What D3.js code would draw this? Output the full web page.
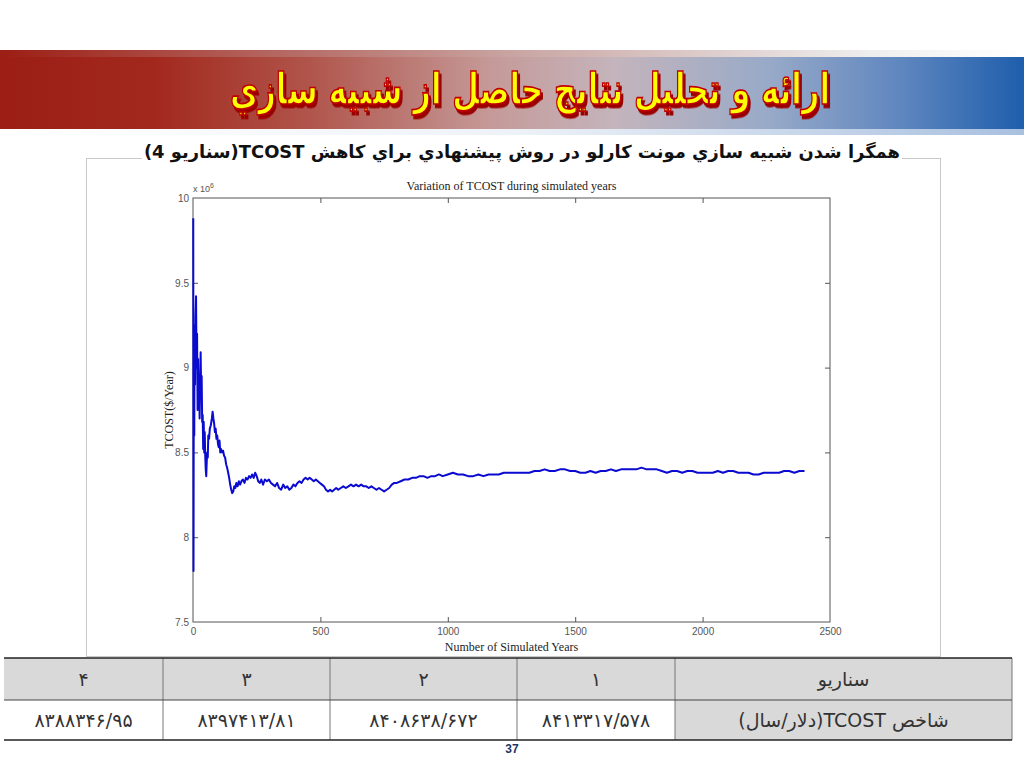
<!DOCTYPE html>
<html><head><meta charset="utf-8">
<script src="https://cdn.jsdelivr.net/npm/d3@7"></script>
<style>body{margin:0;background:#fff;} svg{display:block}</style>
</head><body><svg id="c" width="1024" height="768"></svg>
<script>
// ---- data ----
const years = [1,2,3,4,5,6,8,10,12,14,16,18,20,22,24,26,28,30,32,34,36,38,40,42,44,46,48,50,52,54,56,58,60,63,66,70,74,77,80,83,86,89,92,95,98,101,104,107,110,114,118,122,126,130,134,138,142,146,150,154,158,162,166,170,175,180,185,190,196,202,208,214,220,226,232,238,244,250,256,262,268,275,282,290,298,306,314,322,330,338,346,354,362,370,378,386,394,402,410,418,426,434,442,450,458,466,474,482,490,498,506,514,522,530,538,546,554,562,570,580,590,600,610,620,630,640,650,660,670,680,690,700,710,720,730,740,750,760,770,780,790,800,815,830,845,860,875,890,905,920,935,950,965,980,1000,1020,1040,1060,1080,1100,1120,1140,1160,1180,1200,1220,1240,1260,1280,1300,1320,1340,1360,1380,1400,1420,1440,1460,1480,1500,1520,1540,1560,1580,1600,1620,1640,1660,1680,1700,1720,1740,1760,1780,1800,1820,1840,1860,1880,1900,1920,1940,1960,1980,2000,2020,2040,2060,2080,2100,2120,2140,2160,2180,2200,2220,2240,2260,2280,2300,2320,2340,2360,2380,2400];
const tcost = [9.88,7.80,8.90,9.25,8.60,9.20,8.90,9.30,9.42,9.00,9.20,8.75,9.05,8.80,8.95,8.70,8.90,9.09,8.85,8.95,8.68,8.72,8.52,8.68,8.50,8.62,8.48,8.40,8.36,8.45,8.50,8.47,8.60,8.58,8.64,8.66,8.70,8.74,8.70,8.67,8.62,8.64,8.58,8.60,8.55,8.53,8.57,8.50,8.52,8.50,8.51,8.48,8.47,8.43,8.41,8.38,8.35,8.31,8.28,8.26,8.27,8.30,8.29,8.32,8.30,8.33,8.31,8.33,8.34,8.32,8.35,8.34,8.36,8.35,8.37,8.35,8.38,8.36,8.33,8.32,8.34,8.31,8.34,8.33,8.34,8.32,8.31,8.30,8.32,8.29,8.28,8.31,8.29,8.30,8.28,8.29,8.31,8.30,8.32,8.33,8.32,8.34,8.35,8.34,8.35,8.34,8.33,8.34,8.33,8.32,8.31,8.30,8.28,8.27,8.28,8.27,8.28,8.29,8.28,8.29,8.30,8.29,8.30,8.31,8.30,8.31,8.30,8.31,8.30,8.30,8.29,8.30,8.29,8.28,8.29,8.28,8.27,8.28,8.29,8.31,8.32,8.32,8.33,8.34,8.34,8.35,8.35,8.36,8.36,8.35,8.36,8.36,8.37,8.36,8.37,8.38,8.37,8.37,8.36,8.36,8.37,8.36,8.37,8.37,8.37,8.38,8.38,8.38,8.38,8.38,8.38,8.39,8.39,8.40,8.39,8.39,8.40,8.40,8.39,8.39,8.38,8.38,8.39,8.38,8.39,8.39,8.40,8.39,8.40,8.40,8.40,8.40,8.41,8.40,8.40,8.40,8.39,8.38,8.39,8.39,8.38,8.39,8.39,8.38,8.38,8.38,8.38,8.39,8.38,8.39,8.39,8.38,8.38,8.38,8.37,8.37,8.38,8.38,8.38,8.38,8.39,8.39,8.38,8.39,8.39];
const xTicks = [0,500,1000,1500,2000,2500];
const yTicks = [7.5,8,8.5,9,9.5,10];
const tableHeader = ["سناريو","۱","۲","۳","۴"];
const tableValues = ["شاخص TCOST(دلار/سال)","۸۴۱۳۳۱۷/۵۷۸","۸۴۰۸۶۳۸/۶۷۲","۸۳۹۷۴۱۳/۸۱","۸۳۸۸۳۴۶/۹۵"];
const slideTitle = "ارائه و تحليل نتايج حاصل از شبيه سازي";
const subTitle = "همگرا شدن شبيه سازي مونت كارلو در روش پيشنهادي براي كاهش TCOST(سناريو 4)";
const chartTitle = "Variation of TCOST during simulated years";
const xLabel = "Number of Simulated Years";
const yLabel = "TCOST($/Year)";
const pageNum = "37";

// ---- drawing ----
const svg = d3.select("#c");
const defs = svg.append("defs");
const g1 = defs.append("linearGradient").attr("id","ban").attr("x1","0").attr("x2","1").attr("y1","0").attr("y2","0");
[[0,"#9c1e14"],[0.15,"#a2281d"],[0.3,"#b0544a"],[0.48,"#c59a98"],[0.6,"#c4b4bc"],[0.75,"#98aac8"],[0.88,"#5f86bf"],[1,"#1e5eac"]]
  .forEach(s=>g1.append("stop").attr("offset",s[0]).attr("stop-color",s[1]));
const g2 = defs.append("linearGradient").attr("id","topstrip").attr("x1","0").attr("x2","1");
[[0,"#9c1e14"],[0.5,"#c9a5a2"],[0.85,"#eeeeee"],[1,"#ffffff"]].forEach(s=>g2.append("stop").attr("offset",s[0]).attr("stop-color",s[1]));
const g3 = defs.append("linearGradient").attr("id","botstrip").attr("x1","0").attr("x2","1");
[[0,"#ffffff"],[0.5,"#eef2f8"],[1,"#a9c0df"]].forEach(s=>g3.append("stop").attr("offset",s[0]).attr("stop-color",s[1]));
const flt = defs.append("filter").attr("id","shd").attr("x","-5%").attr("y","-20%").attr("width","110%").attr("height","150%");
flt.append("feDropShadow").attr("dx",2).attr("dy",2.5).attr("stdDeviation",0.3).attr("flood-color","#9a0000").attr("flood-opacity",1);

svg.append("rect").attr("x",0).attr("y",50).attr("width",1024).attr("height",8).attr("fill","url(#topstrip)");
svg.append("rect").attr("x",0).attr("y",57).attr("width",1024).attr("height",72).attr("fill","url(#ban)");
svg.append("rect").attr("x",0).attr("y",129).attr("width",1024).attr("height",6).attr("fill","url(#botstrip)");

// slide title
const tFont = "'DejaVu Sans', sans-serif";
const tMain = svg.append("text").attr("transform","translate(530,104) scale(1,1.4)").attr("text-anchor","middle")
  .attr("direction","rtl").style("font-family",tFont).style("font-weight","bold").style("font-size","34px")
  .attr("fill","#ffff00").attr("stroke","#c00000").attr("stroke-width",1.2).attr("filter","url(#shd)").text(slideTitle);
const tw = tMain.node().getComputedTextLength();
tMain.style("font-size",(34*600/tw).toFixed(1)+"px");

// figure border
svg.append("rect").attr("x",86.5).attr("y",158.5).attr("width",854).attr("height",498)
  .attr("fill","none").attr("stroke","#c8c8c8");

// subtitle
const subBack = svg.append("rect").attr("fill","#fff");
const sub = svg.append("text").attr("x",900).attr("y",158).attr("text-anchor","start").attr("direction","rtl")
  .style("font-family","'DejaVu Sans', 'Liberation Sans', sans-serif").style("font-weight","bold").style("font-size","17px")
  .attr("fill","#111").text(subTitle);
const sw = sub.node().getComputedTextLength();
sub.style("font-size",(17*756/sw).toFixed(1)+"px");
const sbb = sub.node().getBBox();
subBack.attr("x",sbb.x-2).attr("y",sbb.y+2).attr("width",sbb.width+4).attr("height",sbb.height-4);

// chart
const x = d3.scaleLinear().domain([0,2500]).range([193,830]);
const y = d3.scaleLinear().domain([7.5,10]).range([622,198]);
const axCol = "#555";
const tickFont = "'Liberation Sans Narrow','Liberation Sans', Arial, sans-serif";

svg.append("rect").attr("x",x(0)).attr("y",y(10)).attr("width",x(2500)-x(0)).attr("height",y(7.5)-y(10))
  .attr("fill","#fff").attr("stroke",axCol).attr("stroke-width",1);

function styleAxis(g, labels){
  g.select(".domain").remove();
  g.selectAll(".tick line").attr("stroke",axCol);
  g.selectAll(".tick text").style("font-family",tickFont).style("font-size","10px").attr("fill","#555");
  if(!labels) g.selectAll(".tick text").remove();
}
svg.append("g").attr("transform",`translate(0,${y(7.5)})`)
  .call(d3.axisBottom(x).tickValues(xTicks).tickFormat(d3.format("d")).tickSizeInner(-5).tickSizeOuter(0).tickPadding(6))
  .call(g=>styleAxis(g,true));
svg.append("g").attr("transform",`translate(0,${y(10)})`)
  .call(d3.axisTop(x).tickValues(xTicks).tickSizeInner(-5).tickSizeOuter(0))
  .call(g=>styleAxis(g,false));
svg.append("g").attr("transform",`translate(${x(0)},0)`)
  .call(d3.axisLeft(y).tickValues(yTicks).tickFormat(d=>String(d)).tickSizeInner(-5).tickSizeOuter(0).tickPadding(4))
  .call(g=>styleAxis(g,true));
svg.append("g").attr("transform",`translate(${x(2500)},0)`)
  .call(d3.axisRight(y).tickValues(yTicks).tickSizeInner(-5).tickSizeOuter(0))
  .call(g=>styleAxis(g,false));
svg.selectAll(".tick").filter(d=>d===0||d===2500||d===7.5||d===10).select("line").remove();

// exponent label
const ex = svg.append("text").attr("x",x(0)).attr("y",y(10)-6).style("font-family",tickFont).style("font-size","9px").attr("fill","#555");
ex.append("tspan").text("x 10");
ex.append("tspan").attr("dy",-4).style("font-size","7px").text("6");

// line
const pts = years.map((yr,i)=>[yr,tcost[i]]);
svg.append("path").datum(pts)
  .attr("d",d3.line().x(d=>x(d[0])).y(d=>y(d[1])))
  .attr("fill","none").attr("stroke","#0a0ad0").attr("stroke-width",2).attr("stroke-linejoin","round");

const serif = "'Liberation Serif','Times New Roman',serif";
svg.append("text").attr("x",(x(0)+x(2500))/2).attr("y",190).attr("text-anchor","middle")
  .style("font-family",serif).style("font-size","12px").attr("fill","#222").text(chartTitle);
svg.append("text").attr("x",(x(0)+x(2500))/2).attr("y",651).attr("text-anchor","middle")
  .style("font-family",serif).style("font-size","12px").attr("fill","#222").text(xLabel);
svg.append("text").attr("transform",`translate(173,${(y(7.5)+y(10))/2}) rotate(-90)`).attr("text-anchor","middle")
  .style("font-family",serif).style("font-size","12px").attr("fill","#222").text(yLabel);

// table
const edges = [1012,675,517,330,163,4]; // right-to-left column edges
const rowY = [658,700,740];
const tbl = svg.append("g");
const rows = [tableHeader, tableValues];
rows.forEach((row,ri)=>{
  row.forEach((txt,ci)=>{
    const x0 = edges[ci+1], x1 = edges[ci];
    const gray = ri===0 || ci===0;
    tbl.append("rect").attr("x",x0).attr("y",rowY[ri]).attr("width",x1-x0).attr("height",rowY[ri+1]-rowY[ri])
      .attr("fill",gray?"#d9d9d9":"#ffffff");
    tbl.append("text").attr("x",(x0+x1)/2).attr("y",(rowY[ri]+rowY[ri+1])/2+7).attr("text-anchor","middle")
      .attr("direction","rtl").style("font-family","'DejaVu Sans','Noto Sans',sans-serif").style("font-size","19px")
      .attr("fill","#333").text(txt);
  });
});
edges.slice(1,5).forEach(e=>tbl.append("line").attr("x1",e).attr("x2",e).attr("y1",rowY[0]).attr("y2",rowY[2]).attr("stroke","#777").attr("stroke-width",1));
tbl.append("line").attr("x1",edges[0]).attr("x2",edges[0]).attr("y1",rowY[0]).attr("y2",rowY[2]).attr("stroke","#777");
tbl.append("line").attr("x1",edges[5]).attr("x2",edges[0]).attr("y1",rowY[0]).attr("y2",rowY[0]).attr("stroke","#222").attr("stroke-width",1.5);
tbl.append("line").attr("x1",edges[5]).attr("x2",edges[0]).attr("y1",rowY[1]).attr("y2",rowY[1]).attr("stroke","#444").attr("stroke-width",1);
tbl.append("line").attr("x1",edges[5]).attr("x2",edges[0]).attr("y1",rowY[2]).attr("y2",rowY[2]).attr("stroke","#222").attr("stroke-width",1.5);

svg.append("text").attr("x",512).attr("y",753).attr("text-anchor","middle")
  .style("font-family","'Liberation Sans',Arial,sans-serif").style("font-weight","bold").style("font-size","12px")
  .attr("fill","#1f3864").text(pageNum);
</script></body></html>
